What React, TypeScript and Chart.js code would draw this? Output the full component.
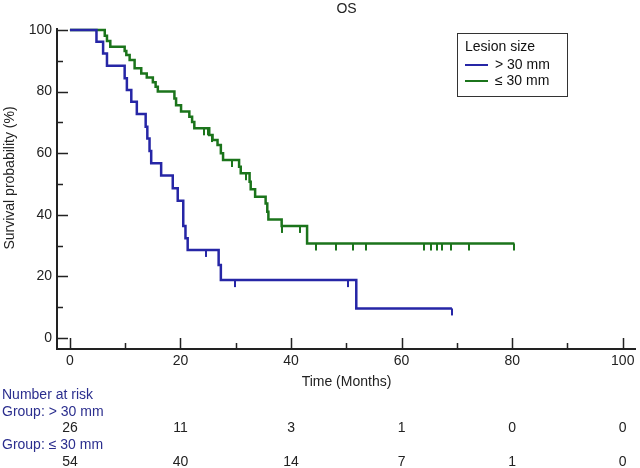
import React, { useEffect, useRef } from "react";
import { Chart, registerables } from "chart.js";
Chart.register(...registerables);

// ---- Data ----
const largeTimes = [0, 4.8, 6.0, 6.7, 9.9, 10.3, 11.1, 12.1, 13.7, 14.0, 14.4, 14.7, 16.5, 18.6, 19.5, 20.5, 20.9, 21.3, 26.9, 27.3, 51.8, 69.1];
const largeSurv = [100, 96.2, 92.4, 88.4, 84.3, 80.5, 76.7, 72.7, 68.6, 64.8, 60.7, 56.7, 52.8, 48.6, 44.6, 36.4, 32.4, 28.6, 23.7, 18.8, 9.6, 9.6];
const largeCensor = [24.7, 29.9, 50.3, 69.1];

const smallTimes = [0, 6.3, 6.7, 7.3, 9.9, 10.2, 10.8, 11.7, 12.9, 13.9, 15.0, 15.5, 15.9, 18.9, 19.2, 20.1, 21.6, 22.1, 22.5, 25.2, 25.8, 26.7, 27.3, 27.7, 30.6, 30.9, 32.5, 32.7, 33.5, 35.4, 35.7, 35.9, 38.3, 42.9, 80.4];
const smallSurv = [100, 98.1, 96.4, 94.6, 93.2, 91.9, 90.3, 87.6, 85.9, 84.6, 83.0, 81.6, 80.0, 77.8, 75.6, 73.5, 71.8, 70.1, 68.1, 65.9, 64.3, 62.7, 60.0, 57.8, 55.6, 53.5, 50.7, 48.3, 45.9, 43.7, 41.0, 38.5, 36.4, 30.7, 30.7];
const smallCensor = [24.3, 24.9, 25.7, 29.3, 31.8, 38.3, 41.7, 44.5, 48.2, 51.2, 53.5, 64.1, 65.4, 66.4, 67.3, 69.0, 72.2, 80.4];

const xMajorTicks = [0, 20, 40, 60, 80, 100];
const xMinorTicks = [10, 30, 50, 70, 90];
const yMajorTicks = [0, 20, 40, 60, 80, 100];
const yMinorTicks = [10, 30, 50, 70, 90];

const riskTimes = [0, 20, 40, 60, 80, 100];
const riskLarge = [26, 11, 3, 1, 0, 0];
const riskSmall = [54, 40, 14, 7, 1, 0];

const seriesLabels = ["> 30 mm", "\u2264 30 mm"];
const legendTitle = "Lesion size";
const chartTitle = "OS";
const xTitle = "Time (Months)";
const yTitle = "Survival probability (%)";
const riskTitle = "Number at risk";
const groupLabels = ["Group: > 30 mm", "Group: \u2264 30 mm"];

const BLUE = "#2626a6";
const GREEN = "#1b741b";
const NAVY = "#2b2e8e";
const AXIS = "#222222";
const FONT = "'Liberation Sans', Arial, sans-serif";
const FS = 14;

function levelAt(times: number[], surv: number[], t: number) {
  let v = surv[0];
  for (let i = 0; i < times.length; i++) if (times[i] <= t) v = surv[i];
  return v;
}

function makeTick(color: string) {
  const c = document.createElement("canvas");
  c.width = 2;
  c.height = 16;
  const g = c.getContext("2d")!;
  g.fillStyle = color;
  g.fillRect(0, 8, 2, 7);
  return c;
}

const overlay = {
  id: "kmOverlay",
  afterDraw(chart: any) {
    const { ctx, chartArea } = chart;
    const xs = chart.scales.x;
    const ys = chart.scales.y;
    const { left, right, top, bottom } = chartArea;
    ctx.save();
    // axes
    ctx.strokeStyle = AXIS;
    ctx.lineWidth = 2;
    ctx.beginPath();
    ctx.moveTo(left, top);
    ctx.lineTo(left, bottom);
    ctx.lineTo(right, bottom);
    ctx.stroke();
    ctx.lineWidth = 1.5;
    ctx.beginPath();
    yMajorTicks.forEach((v) => {
      const p = Math.round(ys.getPixelForValue(v)) + 0.5;
      ctx.moveTo(left, p);
      ctx.lineTo(left + 11, p);
    });
    yMinorTicks.forEach((v) => {
      const p = Math.round(ys.getPixelForValue(v)) + 0.5;
      ctx.moveTo(left, p);
      ctx.lineTo(left + 6, p);
    });
    xMajorTicks.forEach((v) => {
      const p = Math.round(xs.getPixelForValue(v)) + 0.5;
      ctx.moveTo(p, bottom);
      ctx.lineTo(p, bottom - 11);
    });
    xMinorTicks.forEach((v) => {
      const p = Math.round(xs.getPixelForValue(v)) + 0.5;
      ctx.moveTo(p, bottom);
      ctx.lineTo(p, bottom - 6);
    });
    ctx.stroke();

    // titles
    ctx.fillStyle = "#222";
    ctx.font = `${FS}px ${FONT}`;
    ctx.textAlign = "center";
    ctx.textBaseline = "middle";
    ctx.fillText(chartTitle, (left + right) / 2, 9);
    ctx.fillText(xTitle, (left + right) / 2, 382);
    ctx.save();
    ctx.translate(10, (ys.getPixelForValue(0) + ys.getPixelForValue(100)) / 2 - 6);
    ctx.rotate(-Math.PI / 2);
    ctx.fillText(yTitle, 0, 0);
    ctx.restore();

    // legend
    ctx.strokeStyle = "#333";
    ctx.lineWidth = 1;
    ctx.strokeRect(457.5, 33.5, 110, 63);
    ctx.textAlign = "left";
    ctx.fillStyle = "#111";
    ctx.fillText(legendTitle, 465, 47);
    const legColors = [BLUE, GREEN];
    seriesLabels.forEach((lab, i) => {
      const yy = 65 + i * 16;
      ctx.strokeStyle = legColors[i];
      ctx.lineWidth = 2;
      ctx.beginPath();
      ctx.moveTo(465, yy);
      ctx.lineTo(488, yy);
      ctx.stroke();
      ctx.fillText(lab, 495, yy);
    });

    // risk table
    ctx.fillStyle = NAVY;
    ctx.textAlign = "left";
    ctx.fillText(riskTitle, 2, 395);
    ctx.fillText(groupLabels[0], 2, 412);
    ctx.fillText(groupLabels[1], 2, 445);
    ctx.fillStyle = "#222";
    ctx.textAlign = "center";
    riskTimes.forEach((t, i) => {
      const px = xs.getPixelForValue(t);
      ctx.fillText(String(riskLarge[i]), px, 428);
      ctx.fillText(String(riskSmall[i]), px, 462);
    });
    ctx.restore();
  },
};

export default function App() {
  const ref = useRef<HTMLCanvasElement | null>(null);
  useEffect(() => {
    if (!ref.current) return;
    const toPts = (ts: number[], ss: number[]) => ts.map((t, i) => ({ x: t, y: ss[i] }));
    const censorPts = (cs: number[], ts: number[], ss: number[]) => cs.map((t) => ({ x: t, y: levelAt(ts, ss, t) }));
    const chart = new Chart(ref.current, {
      type: "line",
      data: {
        datasets: [
          { label: seriesLabels[0], data: toPts(largeTimes, largeSurv), stepped: "before", borderColor: BLUE, borderWidth: 2.5, pointRadius: 0, fill: false },
          { label: seriesLabels[1], data: toPts(smallTimes, smallSurv), stepped: "before", borderColor: GREEN, borderWidth: 2.5, pointRadius: 0, fill: false },
          { label: "c1", data: censorPts(largeCensor, largeTimes, largeSurv), showLine: false, pointStyle: makeTick(BLUE) as any, pointRadius: 4, borderWidth: 0 },
          { label: "c2", data: censorPts(smallCensor, smallTimes, smallSurv), showLine: false, pointStyle: makeTick(GREEN) as any, pointRadius: 4, borderWidth: 0 },
        ],
      },
      options: {
        responsive: false,
        animation: false,
        layout: { padding: { top: 28, right: 1, left: 0, bottom: 0 } },
        plugins: { legend: { display: false }, tooltip: { enabled: false }, title: { display: false } },
        scales: {
          x: {
            type: "linear",
            min: -2.34,
            max: 102.4,
            grid: { display: false, drawTicks: false },
            border: { display: false },
            ticks: { padding: 4, color: "#222", font: { family: FONT, size: FS }, maxRotation: 0, autoSkip: false },
            afterBuildTicks: (s: any) => { s.ticks = xMajorTicks.map((v) => ({ value: v })); },
            afterFit: (s: any) => { s.height = 119; },
          },
          y: {
            type: "linear",
            min: -3.57,
            max: 100.65,
            grid: { display: false, drawTicks: false },
            border: { display: false },
            ticks: { padding: 5, color: "#222", font: { family: FONT, size: FS } },
            afterBuildTicks: (s: any) => { s.ticks = yMajorTicks.map((v) => ({ value: v })); },
            afterFit: (s: any) => { s.width = 57; },
          },
        },
      },
      plugins: [overlay],
    });
    return () => chart.destroy();
  }, []);
  return (
    <div style={{ position: "absolute", left: 0, top: 0, width: 640, height: 468, background: "#fff" }}>
      <canvas ref={ref} width={640} height={468} style={{ display: "block" }} />
    </div>
  );
}
